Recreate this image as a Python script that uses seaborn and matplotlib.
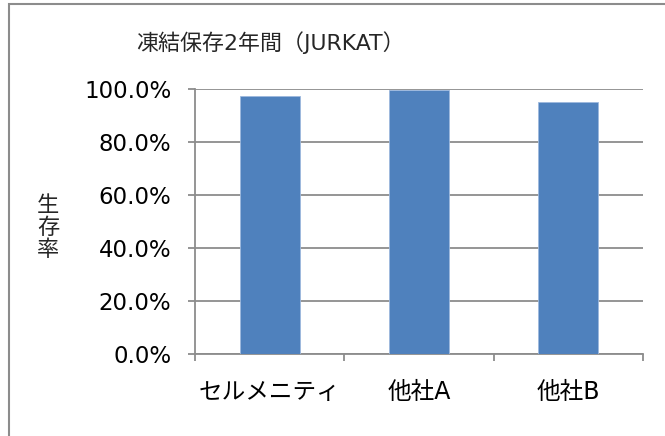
import matplotlib
matplotlib.use('Agg')
import matplotlib.pyplot as plt
import seaborn as sns
import pandas as pd
from matplotlib.patches import Rectangle
from matplotlib.ticker import PercentFormatter, FixedLocator

# データ
categories = ['セルメニティ', '他社A', '他社B']
survival = [0.975, 0.997, 0.95]
title = '凍結保存2年間（JURKAT）'
ylabel = '生\n存\n率'

df = pd.DataFrame({'製品': categories, '生存率': survival})

sns.set_style('white')
plt.rcParams['font.family'] = ['DejaVu Sans', 'Noto Sans CJK JP']

fig = plt.figure(figsize=(6.65, 4.36), dpi=100)
ax = fig.add_axes([195 / 665, 82 / 436, 448 / 665, 265 / 436])

sns.barplot(data=df, x='製品', y='生存率', color='#4F81BD', saturation=1,
            width=0.4, edgecolor='#9DB9DE', linewidth=0.6, ax=ax, zorder=3)

ax.set_ylim(0, 1)
ax.set_xlim(-0.5, 2.5)
ax.set_yticks([0, 0.2, 0.4, 0.6, 0.8, 1.0])
ax.yaxis.set_major_formatter(PercentFormatter(xmax=1, decimals=1))
ax.yaxis.grid(True, color='#8C8C8C', linewidth=1.3, zorder=0)
ax.set_axisbelow(True)

ax.set_xlabel('')
ax.set_ylabel('')

for s in ['top', 'right']:
    ax.spines[s].set_visible(False)
for s in ['left', 'bottom']:
    ax.spines[s].set_color('#8C8C8C')
    ax.spines[s].set_linewidth(1.3)

ax.tick_params(axis='y', which='major', left=True, length=5, width=1.3,
               color='#8C8C8C', pad=12, labelsize=16.5, labelcolor='black')
ax.tick_params(axis='x', which='major', bottom=False, length=0, pad=19,
               labelsize=17, labelcolor='black')
ax.xaxis.set_minor_locator(FixedLocator([-0.5, 0.5, 1.5, 2.5]))
ax.tick_params(axis='x', which='minor', bottom=True, length=5, width=1.3,
               color='#8C8C8C')

fig.text(270 / 665, 1 - 43 / 436, title, ha='center', va='center', fontsize=15.8)
fig.text(48 / 665, 1 - 228 / 436, ylabel, ha='center', va='center',
         fontsize=16, linespacing=1.12)

# 外枠
fig.patches.append(Rectangle((9 / 665, -0.2), 1.5, 1.2 - 4 / 436,
                             transform=fig.transFigure, fill=False,
                             edgecolor='#8C8C8C', linewidth=1.5))

fig.savefig('out.png', dpi=100)
